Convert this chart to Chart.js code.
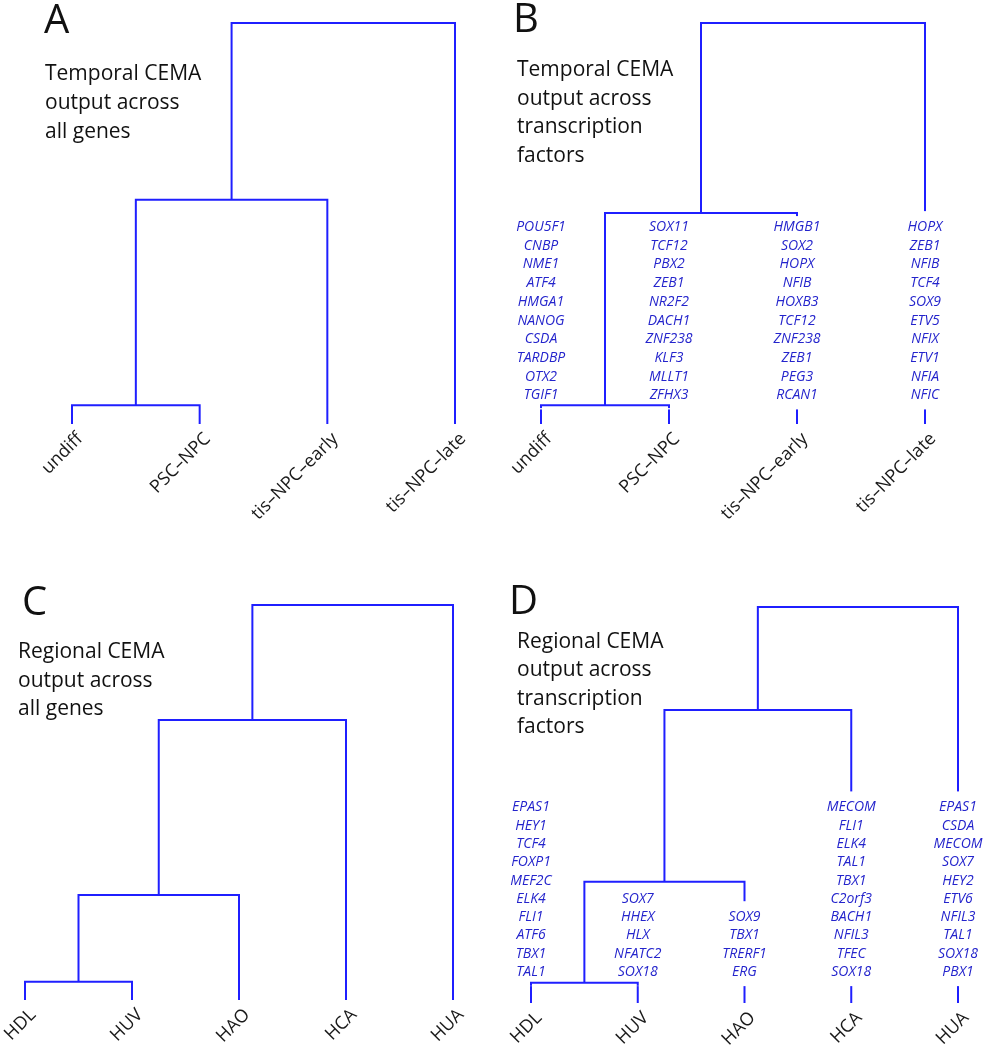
<!DOCTYPE html>
<html>
<head>
<meta charset="utf-8">
<script src="https://cdn.jsdelivr.net/npm/chart.js@4.4.1/dist/chart.umd.min.js"></script>
<style>
  body { margin: 0; background: #fff; }
  #wrap { position: relative; width: 983px; height: 1050px; }
  canvas { position: absolute; }
</style>
</head>
<body>
<div id="wrap">
  <canvas id="pA" width="491" height="525" style="left:0;top:0"></canvas>
  <canvas id="pB" width="492" height="525" style="left:491px;top:0"></canvas>
  <canvas id="pC" width="491" height="525" style="left:0;top:525px"></canvas>
  <canvas id="pD" width="492" height="525" style="left:491px;top:525px"></canvas>
</div>
<script>
// ── DATA ──────────────────────────────────────────────────────────────────
const temporalLeaves = ['undiff', 'PSC–NPC', 'tis–NPC–early', 'tis–NPC–late'];
const regionalLeaves = ['HDL', 'HUV', 'HAO', 'HCA', 'HUA'];

// merges: [left, right, height]; ids < n are leaves, n.. are earlier merges
const mergesA = [[0, 1, 0.47], [4, 2, 5.59], [5, 3, 10]];
const mergesB = [[0, 1, 0.47], [4, 2, 5.26], [5, 3, 10]];
const mergesC = [[0, 1, 0.46], [5, 2, 2.66], [6, 3, 7.09], [7, 4, 10]];
const mergesD = [[0, 1, 0.51], [5, 2, 3.06], [6, 3, 7.40], [7, 4, 10]];

const tfTemporal = [
  ['POU5F1', 'CNBP', 'NME1', 'ATF4', 'HMGA1', 'NANOG', 'CSDA', 'TARDBP', 'OTX2', 'TGIF1'],
  ['SOX11', 'TCF12', 'PBX2', 'ZEB1', 'NR2F2', 'DACH1', 'ZNF238', 'KLF3', 'MLLT1', 'ZFHX3'],
  ['HMGB1', 'SOX2', 'HOPX', 'NFIB', 'HOXB3', 'TCF12', 'ZNF238', 'ZEB1', 'PEG3', 'RCAN1'],
  ['HOPX', 'ZEB1', 'NFIB', 'TCF4', 'SOX9', 'ETV5', 'NFIX', 'ETV1', 'NFIA', 'NFIC'],
];
const tfRegional = [
  ['EPAS1', 'HEY1', 'TCF4', 'FOXP1', 'MEF2C', 'ELK4', 'FLI1', 'ATF6', 'TBX1', 'TAL1'],
  ['SOX7', 'HHEX', 'HLX', 'NFATC2', 'SOX18'],
  ['SOX9', 'TBX1', 'TRERF1', 'ERG'],
  ['MECOM', 'FLI1', 'ELK4', 'TAL1', 'TBX1', 'C2orf3', 'BACH1', 'NFIL3', 'TFEC', 'SOX18'],
  ['EPAS1', 'CSDA', 'MECOM', 'SOX7', 'HEY2', 'ETV6', 'NFIL3', 'TAL1', 'SOX18', 'PBX1'],
];

const LINE_BLUE = '#1f1fff';
const TEXT_BLUE = '#2424cc';

// ── DENDROGRAM GEOMETRY ───────────────────────────────────────────────────
// turns a linkage list into U-shaped segments (in data units) + parent height per leaf
function dendro(n, merges) {
  const pos = [], hgt = [], parent = [];
  for (let i = 0; i < n; i++) { pos.push(i); hgt.push(0); }
  const segs = merges.map(([a, b, h]) => {
    if (a < n) parent[a] = h;
    if (b < n) parent[b] = h;
    const s = [
      { x: pos[a], y: hgt[a] }, { x: pos[a], y: h },
      { x: pos[b], y: h },      { x: pos[b], y: hgt[b] },
    ];
    pos.push((pos[a] + pos[b]) / 2);
    hgt.push(h);
    return s;
  });
  return { segs, parent };
}

// ── TEXT PLUGIN: letter, title, leaf labels, gene lists ───────────────────
const dendroText = {
  id: 'dendroText',
  afterDatasetsDraw(chart, args, o) {
    const ctx = chart.ctx, xs = chart.scales.x, ys = chart.scales.y;
    ctx.save();

    ctx.fillStyle = '#111';
    ctx.textAlign = 'left';
    ctx.textBaseline = 'alphabetic';
    ctx.font = '40px "Open Sans"';
    ctx.fillText(o.letter, o.letterAt[0], o.letterAt[1]);

    ctx.font = '21px "Open Sans"';
    o.title.forEach((t, i) => ctx.fillText(t, o.titleAt[0], o.titleAt[1] + i * o.titleStep));

    const base = ys.getPixelForValue(0);
    ctx.fillStyle = '#1a1a1a';
    ctx.font = '18px "Open Sans"';
    ctx.textAlign = 'right';
    ctx.textBaseline = 'middle';
    o.leaves.forEach((lab, i) => {
      ctx.save();
      ctx.translate(xs.getPixelForValue(i) + 8, base + 12);
      ctx.rotate(-Math.PI / 4);
      ctx.fillText(lab, 0, 0);
      ctx.restore();
    });

    if (o.genes) {
      ctx.font = 'italic 14px "Open Sans"';
      ctx.textAlign = 'center';
      o.genes.forEach((rows, i) => {
        const x = xs.getPixelForValue(i);
        const anchor = ys.getPixelForValue(o.geneAnchor);
        const first = o.geneAlign === 'top' ? anchor : anchor - (rows.length - 1) * o.geneStep;
        const last = first + (rows.length - 1) * o.geneStep;
        // break the leaf stem where the list sits
        const top = Math.max(first - 16, ys.getPixelForValue(o.parent[i]) + 3);
        const bot = last + 14;
        if (bot > top) {
          ctx.fillStyle = '#fff';
          ctx.fillRect(x - 4, top, 8, bot - top);
        }
        ctx.fillStyle = TEXT_BLUE;
        rows.forEach((g, r) => ctx.fillText(g, x, first + r * o.geneStep));
      });
    }
    ctx.restore();
  }
};

function makePanel(id, leaves, merges, pad, text) {
  const { segs, parent } = dendro(leaves.length, merges);
  new Chart(document.getElementById(id), {
    type: 'scatter',
    data: {
      datasets: segs.map(s => ({
        data: s, showLine: true, borderColor: LINE_BLUE, borderWidth: 2,
        pointRadius: 0, tension: 0, clip: false,
      })),
    },
    options: {
      responsive: false, animation: false, events: [],
      layout: { padding: pad },
      scales: {
        x: { type: 'linear', display: false, min: 0, max: leaves.length - 1 },
        y: { type: 'linear', display: false, min: 0, max: 10 },
      },
      plugins: {
        legend: { display: false },
        tooltip: { enabled: false },
        dendroText: Object.assign({ leaves, parent }, text),
      },
    },
    plugins: [dendroText],
  });
}

makePanel('pA', temporalLeaves, mergesA, { left: 72, right: 36, top: 23, bottom: 101 }, {
  letter: 'A', letterAt: [44, 33],
  title: ['Temporal CEMA', 'output across', 'all genes'], titleAt: [45, 80], titleStep: 29,
});
makePanel('pB', temporalLeaves, mergesB, { left: 50, right: 58, top: 23, bottom: 101 }, {
  letter: 'B', letterAt: [22, 32],
  title: ['Temporal CEMA', 'output across', 'transcription', 'factors'], titleAt: [26, 76], titleStep: 28.7,
  genes: tfTemporal, geneAlign: 'top', geneAnchor: 4.91, geneStep: 18.7,
});
makePanel('pC', regionalLeaves, mergesC, { left: 25, right: 38, top: 80, bottom: 50 }, {
  letter: 'C', letterAt: [22, 90],
  title: ['Regional CEMA', 'output across', 'all genes'], titleAt: [18, 133], titleStep: 28.7,
});
makePanel('pD', regionalLeaves, mergesD, { left: 40, right: 25, top: 82, bottom: 47 }, {
  letter: 'D', letterAt: [18, 89],
  title: ['Regional CEMA', 'output across', 'transcription', 'factors'], titleAt: [26, 123], titleStep: 28.3,
  genes: tfRegional, geneAlign: 'bottom', geneAnchor: 0.78, geneStep: 18.3,
});
</script>
</body>
</html>
